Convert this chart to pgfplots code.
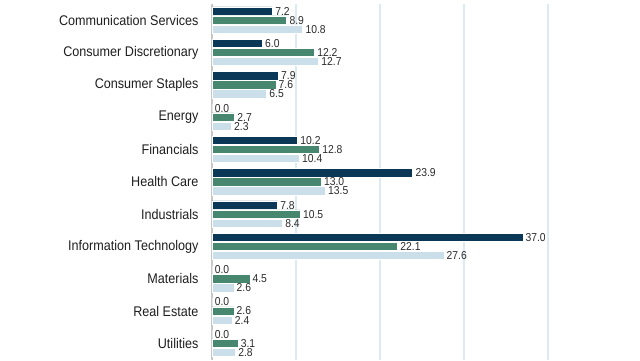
\documentclass[border=0pt]{standalone}
\usepackage{pgfplots}
\pgfplotsset{compat=1.18}
\usepackage{fontspec}
\setmainfont{Liberation Sans}[FakeStretch=0.9]
\definecolor{navy}{HTML}{0A3856}
\definecolor{teal}{HTML}{478770}
\definecolor{lightb}{HTML}{CADFE9}
\definecolor{gridc}{HTML}{DCEAF3}
\definecolor{txt}{HTML}{1E1E1E}
\definecolor{lbl}{HTML}{2B2B2B}
\begin{document}
\begin{tikzpicture}
\useasboundingbox (0,0) rectangle (640pt,360pt);
\begin{axis}[
  at={(212pt,0.5pt)}, anchor=south west,
  scale only axis, width=336pt, height=355.5pt,
  xmin=0, xmax=40, ymin=-0.5, ymax=10.5,
  axis x line*=bottom, axis y line*=left,
  x axis line style={draw=none},
  y axis line style={draw=black!22, line width=1.5pt},
  xtick={10,20,30,40}, xticklabels={},
  xmajorgrids, grid style={color=gridc, line width=1.2pt},
  major tick length=0pt,
  ytick={0,...,10},
  yticklabels={Utilities,Real Estate,Materials,Information Technology,Industrials,Health Care,Financials,Energy,Consumer Staples,Consumer Discretionary,Communication Services},
  yticklabel style={font=\fontsize{14}{16}\selectfont, text=txt, xshift=-10pt},
  xbar, bar width=8.4pt,
  nodes near coords={\pgfmathprintnumber[fixed,fixed zerofill,precision=1,assume math mode=true]{\pgfplotspointmeta}},
  every node near coord/.append style={font=\fontsize{11.5}{12}\selectfont, text=lbl, anchor=west, inner sep=2.5pt},
  clip=false,
]
\addplot[fill=navy, draw=white, line width=0.6pt, bar shift=9pt] coordinates {
(7.2,10) (6.0,9) (7.9,8) (0.0,7) (10.2,6) (23.9,5) (7.8,4) (37.0,3) (0.0,2) (0.0,1) (0.0,0)};
\addplot[fill=teal, draw=white, line width=0.6pt, bar shift=0pt] coordinates {
(8.9,10) (12.2,9) (7.6,8) (2.7,7) (12.8,6) (13.0,5) (10.5,4) (22.1,3) (4.5,2) (2.6,1) (3.1,0)};
\addplot[fill=lightb, draw=white, line width=0.6pt, bar shift=-9pt] coordinates {
(10.8,10) (12.7,9) (6.5,8) (2.3,7) (10.4,6) (13.5,5) (8.4,4) (27.6,3) (2.6,2) (2.4,1) (2.8,0)};
\end{axis}
\end{tikzpicture}
\end{document}
